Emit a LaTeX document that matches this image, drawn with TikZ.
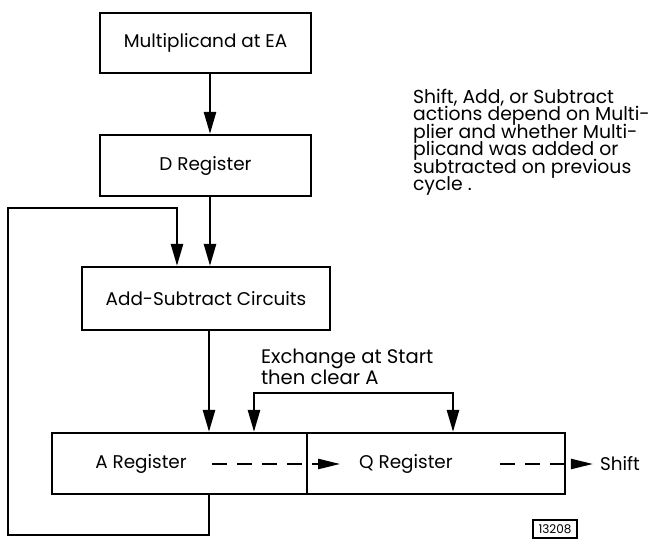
\documentclass[tikz,border=0pt]{standalone}
\usepackage{fontspec}
\setmainfont{Poppins}
\usetikzlibrary{arrows.meta}
\newcommand\notefont{\fontsize{9.4}{8.7}\selectfont\setlength{\lineskiplimit}{-20pt}\relax}
\tikzset{
  block/.style={draw, line width=1.1pt, inner sep=0pt},
  flow/.style={line width=1.3pt, -{Triangle[length=11pt,width=6pt]}},
  shiftflow/.style={line width=1.1pt, dash pattern=on 7.5pt off 5pt, -{Triangle[length=11pt,width=5pt]}},
}
\begin{document}
\begin{tikzpicture}[x=0.5pt,y=-0.5pt,font=\fontsize{9.2}{10}\selectfont]
        \useasboundingbox (0,0) rectangle (661,550);
        %Multiplicand
        \node [block, minimum width = 105.5pt, minimum height = 30pt]
        (mcand)at(205.5,43){Multiplicand at EA};
        %D Register
        \node [block, minimum width = 105.5pt, minimum height = 30.5pt]
        (dreg)at(205.5,165.5){D Register};
        %Add-Subtract
        \node [block, minimum width = 124pt, minimum height = 31.5pt]
        (addsub)at(206,298.5){Add-Subtract Circuits};

        %A and Q
        \node [block, minimum width = 127.5pt, minimum height = 30.5pt]
        (areg)at(179.5,463.5){};
        \node [block, minimum width = 129pt, minimum height = 30.5pt]
        (qreg)at(436,463.5){};
        \node (atext)at(141,464){A Register};
        \node (qtext)at(406,464){Q Register};
        \node [anchor = west] (shift)at(593,464){Shift};

        %notes
        \node [anchor = north west, align = left, font = \fontsize{9.8}{10.5}\selectfont]
        (xlabel)at(254,342){Exchange at Start\\then clear A};
        \node [anchor = north west, align = left, font = \notefont]
        (note)at(406,82){Shift, Add, or Subtract\\actions depend on Multi-\\plier and whether Multi-\\plicand was added or\\subtracted on previous\\cycle .};
        \node [draw, line width = 0.8pt, minimum width = 22pt, minimum height = 9pt, inner sep = 0pt,
        font = \fontsize{6}{6}\selectfont] (fig)at(555,529){13208};

        \coordinate (loopbl)at(8,535);
        \coordinate (looptl)at(8,208);
        \coordinate (xbar)at(353,393);

        \draw [flow]([xshift=2.25pt]mcand.south)--([xshift=2.25pt]dreg.north);
        \draw [flow]([xshift=2.25pt]dreg.south)--([xshift=2pt]addsub.north);
        \draw [flow]([xshift=1.5pt]addsub.south)--([xshift=14.75pt]areg.north);
        \draw [flow]([xshift=14.75pt]areg.south) |- (loopbl) -- (looptl) -| ([xshift=-14.5pt]addsub.north);
        \draw [flow, {Triangle[length=11pt,width=6pt]}-{Triangle[length=11pt,width=6pt]}]
        ([xshift=37.25pt]areg.north) |- (xbar) -| ([xshift=8.5pt]qreg.north);
        \draw [shiftflow, shorten <=9pt, shorten >=6pt](atext)--(qtext);
        \draw [shiftflow, shorten <=20pt](qtext)--(shift);
\end{tikzpicture}
\end{document}
